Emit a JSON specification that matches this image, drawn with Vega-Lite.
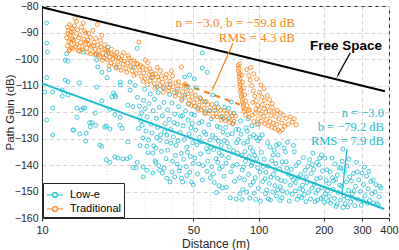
{
"$schema":"https://vega.github.io/schema/vega-lite/v6.json",
"width":347,"height":212,"autosize":"none",
"padding":{"left":42,"top":6,"right":10,"bottom":32},
"config":{"view":{"stroke":"#262626","strokeWidth":1},"font":"Liberation Sans",
"axis":{"domainColor":"#262626","tickColor":"#262626","labelColor":"#262626","titleColor":"#262626","labelFontSize":11,"titleFontSize":12,"titleFontWeight":"normal","gridColor":"#d4d4d4","gridDash":[4,3],"labelOverlap":false}},
"datasets":{
"minor":[{"v":20},{"v":30},{"v":40},{"v":60},{"v":70},{"v":80},{"v":90}],
"pts":[
{"d":10.5,"g":-86.4,"s":"L"},{"d":10.5,"g":-94,"s":"L"},{"d":10.6,"g":-97.4,"s":"L"},{"d":10.5,"g":-107,"s":"L"},{"d":10.3,"g":-112.5,"s":"L"},{"d":11.2,"g":-112.5,"s":"L"},{"d":11.2,"g":-118.5,"s":"L"},{"d":10.5,"g":-123,"s":"L"},{"d":11.2,"g":-128.7,"s":"L"},{"d":12.8,"g":-100.4,"s":"L"},{"d":13.2,"g":-100.8,"s":"L"},{"d":13.0,"g":-98,"s":"L"},{"d":15.5,"g":-118.5,"s":"L"},{"d":14.9,"g":-109,"s":"L"},{"d":13.2,"g":-108.6,"s":"L"},{"d":12.4,"g":-114,"s":"L"},{"d":14.5,"g":-118.5,"s":"L"},{"d":14.5,"g":-122,"s":"L"},{"d":17.0,"g":-124,"s":"L"},{"d":16.7,"g":-125.6,"s":"L"},{"d":17.9,"g":-110.6,"s":"L"},{"d":18.1,"g":-103,"s":"L"},{"d":20.0,"g":-107,"s":"L"},{"d":20.2,"g":-95.5,"s":"L"},{"d":20.2,"g":-97.7,"s":"L"},{"d":17.6,"g":-98.5,"s":"L"},{"d":17.9,"g":-100.4,"s":"L"},{"d":22.0,"g":-103,"s":"L"},{"d":20.4,"g":-104,"s":"L"},{"d":21.7,"g":-113.6,"s":"L"},{"d":27.5,"g":-96,"s":"L"},{"d":26.3,"g":-103,"s":"L"},{"d":26.9,"g":-110,"s":"L"},{"d":32,"g":-107,"s":"L"},{"d":20.6,"g":-119,"s":"L"},{"d":21.7,"g":-121,"s":"L"},{"d":22.9,"g":-122,"s":"L"},{"d":26.3,"g":-118,"s":"L"},{"d":28.3,"g":-122,"s":"L"},{"d":34,"g":-110.6,"s":"L"},{"d":14,"g":-126.8,"s":"L"},{"d":14.9,"g":-128.3,"s":"L"},{"d":16,"g":-128,"s":"L"},{"d":15.9,"g":-131,"s":"L"},{"d":17.7,"g":-125,"s":"L"},{"d":18.5,"g":-132.5,"s":"L"},{"d":19.8,"g":-125.3,"s":"L"},{"d":20.6,"g":-126.4,"s":"L"},{"d":19.8,"g":-138,"s":"L"},{"d":20.6,"g":-139,"s":"L"},{"d":21.7,"g":-137,"s":"L"},{"d":22.4,"g":-137.4,"s":"L"},{"d":23.6,"g":-137.7,"s":"L"},{"d":24.7,"g":-137.7,"s":"L"},{"d":25.5,"g":-137,"s":"L"},{"d":22.9,"g":-125,"s":"L"},{"d":23.4,"g":-126.2,"s":"L"},{"d":24.9,"g":-131.3,"s":"L"},{"d":27.5,"g":-139,"s":"L"},{"d":26.3,"g":-141,"s":"L"},{"d":27.2,"g":-141,"s":"L"},{"d":29.3,"g":-140.8,"s":"L"},{"d":29.3,"g":-144.5,"s":"L"},{"d":30.5,"g":-142,"s":"L"},{"d":32.5,"g":-143,"s":"L"},{"d":33.5,"g":-139,"s":"L"},{"d":35,"g":-142,"s":"L"},{"d":36,"g":-143,"s":"L"},{"d":37.7,"g":-145,"s":"L"},{"d":39.8,"g":-142.6,"s":"L"},{"d":41,"g":-144.5,"s":"L"},{"d":44,"g":-145,"s":"L"},{"d":46.6,"g":-144,"s":"L"},{"d":49,"g":-146.4,"s":"L"},{"d":50,"g":-147.5,"s":"L"},{"d":43.3,"g":-141,"s":"L"},{"d":44.6,"g":-146.4,"s":"L"},{"d":39,"g":-146.4,"s":"L"},{"d":29,"g":-125,"s":"L"},{"d":30.5,"g":-133,"s":"L"},{"d":32.5,"g":-135.5,"s":"L"},{"d":33.5,"g":-133.6,"s":"L"},{"d":35,"g":-130.6,"s":"L"},{"d":37.7,"g":-128.7,"s":"L"},{"d":12.4,"g":-111.7,"s":"L"},{"d":13.2,"g":-113.6,"s":"L"},{"d":15.2,"g":-119.2,"s":"L"},{"d":15.8,"g":-118.5,"s":"L"},{"d":17.6,"g":-120.4,"s":"L"},{"d":18.9,"g":-115.8,"s":"L"},{"d":21,"g":-114.3,"s":"L"},{"d":21.4,"g":-112.8,"s":"L"},{"d":21.9,"g":-114.3,"s":"L"},{"d":23,"g":-109.8,"s":"L"},{"d":24.9,"g":-117.4,"s":"L"},{"d":25.5,"g":-111.7,"s":"L"},{"d":16.6,"g":-124,"s":"L"},{"d":19.5,"g":-125.7,"s":"L"},{"d":13.9,"g":-126.8,"s":"L"},{"d":18.9,"g":-133,"s":"L"},{"d":15.5,"g":-97.4,"s":"L"},{"d":18.9,"g":-105,"s":"L"},{"d":12.8,"g":-108,"s":"L"},{"d":23,"g":-108.7,"s":"L"},{"d":25.5,"g":-108.7,"s":"L"},{"d":55,"g":-97.7,"s":"L"},{"d":55,"g":-103.4,"s":"L"},{"d":58,"g":-105,"s":"L"},{"d":48,"g":-106,"s":"L"},{"d":50.5,"g":-107.5,"s":"L"},{"d":45.6,"g":-106.8,"s":"L"},
{"d":27.6,"g":-114.5,"s":"L"},{"d":28.2,"g":-117.8,"s":"L"},{"d":28.8,"g":-120.3,"s":"L"},{"d":29.4,"g":-115.6,"s":"L"},{"d":30.0,"g":-118.7,"s":"L"},{"d":30.6,"g":-121.9,"s":"L"},{"d":31.2,"g":-116.8,"s":"L"},{"d":31.8,"g":-124.6,"s":"L"},{"d":27.9,"g":-126.2,"s":"L"},{"d":28.6,"g":-123.4,"s":"L"},{"d":29.2,"g":-129.8,"s":"L"},{"d":30.2,"g":-127.2,"s":"L"},{"d":31.0,"g":-130.6,"s":"L"},{"d":31.6,"g":-113.2,"s":"L"},{"d":29.8,"g":-111.4,"s":"L"},{"d":30.9,"g":-135.4,"s":"L"},{"d":28.4,"g":-132.7,"s":"L"},{"d":32.2,"g":-127.9,"s":"L"},
{"d":32.6,"g":-119.5,"s":"L"},{"d":33.1,"g":-115.2,"s":"L"},{"d":33.7,"g":-122.4,"s":"L"},{"d":34.2,"g":-125.8,"s":"L"},{"d":34.8,"g":-118.2,"s":"L"},{"d":35.3,"g":-128.6,"s":"L"},{"d":35.9,"g":-121.4,"s":"L"},{"d":36.5,"g":-116.4,"s":"L"},{"d":37.1,"g":-124.4,"s":"L"},{"d":37.7,"g":-131.2,"s":"L"},{"d":32.8,"g":-132.8,"s":"L"},{"d":33.9,"g":-129.6,"s":"L"},{"d":35.6,"g":-134.8,"s":"L"},{"d":36.8,"g":-127.4,"s":"L"},{"d":37.4,"g":-137.6,"s":"L"},{"d":34.4,"g":-112.6,"s":"L"},{"d":36.2,"g":-110.8,"s":"L"},{"d":33.3,"g":-138.4,"s":"L"},{"d":38.0,"g":-119.2,"s":"L"},{"d":38.0,"g":-134.4,"s":"L"},{"d":34.6,"g":-140.2,"s":"L"},{"d":36.6,"g":-141.2,"s":"L"},
{"d":38.6,"g":-122.8,"s":"L"},{"d":39.2,"g":-126.6,"s":"L"},{"d":39.8,"g":-116.6,"s":"L"},{"d":40.4,"g":-129.4,"s":"L"},{"d":41.0,"g":-120.8,"s":"L"},{"d":41.6,"g":-132.6,"s":"L"},{"d":42.2,"g":-124.6,"s":"L"},{"d":42.8,"g":-118,"s":"L"},{"d":43.4,"g":-127.8,"s":"L"},{"d":44.0,"g":-135.6,"s":"L"},{"d":38.8,"g":-113.4,"s":"L"},{"d":40.0,"g":-138.6,"s":"L"},{"d":41.3,"g":-136.4,"s":"L"},{"d":42.5,"g":-130.8,"s":"L"},{"d":43.7,"g":-121.6,"s":"L"},{"d":39.4,"g":-131.8,"s":"L"},{"d":40.7,"g":-124,"s":"L"},{"d":42,"g":-139.6,"s":"L"},{"d":43.1,"g":-142.2,"s":"L"},{"d":44.2,"g":-115,"s":"L"},{"d":39.0,"g":-109.6,"s":"L"},{"d":41.8,"g":-112.2,"s":"L"},
{"d":44.8,"g":-125.2,"s":"L"},{"d":45.4,"g":-130.4,"s":"L"},{"d":46.0,"g":-119.6,"s":"L"},{"d":46.6,"g":-133.2,"s":"L"},{"d":47.2,"g":-123,"s":"L"},{"d":47.8,"g":-128.2,"s":"L"},{"d":48.4,"g":-136.8,"s":"L"},{"d":49.0,"g":-120.8,"s":"L"},{"d":49.6,"g":-131.6,"s":"L"},{"d":45.1,"g":-137.8,"s":"L"},{"d":46.3,"g":-140.6,"s":"L"},{"d":47.5,"g":-117,"s":"L"},{"d":48.7,"g":-126,"s":"L"},{"d":49.9,"g":-139.4,"s":"L"},{"d":45.7,"g":-113.6,"s":"L"},{"d":48.1,"g":-142.8,"s":"L"},{"d":46.9,"g":-135.2,"s":"L"},{"d":49.3,"g":-124.4,"s":"L"},{"d":44.5,"g":-121.4,"s":"L"},{"d":47.0,"g":-110.4,"s":"L"},
{"d":50.5,"g":-121.2,"s":"L"},{"d":51.2,"g":-126.8,"s":"L"},{"d":51.9,"g":-132.4,"s":"L"},{"d":52.6,"g":-118.4,"s":"L"},{"d":53.3,"g":-129.6,"s":"L"},{"d":54.0,"g":-135.8,"s":"L"},{"d":54.7,"g":-123.6,"s":"L"},{"d":55.4,"g":-140.2,"s":"L"},{"d":56.1,"g":-127.6,"s":"L"},{"d":56.8,"g":-120.2,"s":"L"},{"d":57.5,"g":-133.8,"s":"L"},{"d":58.2,"g":-138.6,"s":"L"},{"d":58.9,"g":-124.8,"s":"L"},{"d":59.6,"g":-130.6,"s":"L"},{"d":50.8,"g":-137.4,"s":"L"},{"d":52.2,"g":-143.4,"s":"L"},{"d":53.6,"g":-114.6,"s":"L"},{"d":55.0,"g":-145.6,"s":"L"},{"d":56.4,"g":-116.2,"s":"L"},{"d":57.8,"g":-142.4,"s":"L"},{"d":59.2,"g":-119.6,"s":"L"},{"d":51.5,"g":-110.8,"s":"L"},{"d":54.3,"g":-131.2,"s":"L"},{"d":57.1,"g":-128.4,"s":"L"},{"d":59.9,"g":-144.8,"s":"L"},{"d":53,"g":-124.2,"s":"L"},{"d":58.5,"g":-135,"s":"L"},{"d":52.9,"g":-139.6,"s":"L"},
{"d":60.4,"g":-122.6,"s":"L"},{"d":61.2,"g":-128.8,"s":"L"},{"d":62.0,"g":-134.2,"s":"L"},{"d":62.8,"g":-119.4,"s":"L"},{"d":63.6,"g":-137.6,"s":"L"},{"d":64.4,"g":-125.4,"s":"L"},{"d":65.2,"g":-131,"s":"L"},{"d":66.0,"g":-141.4,"s":"L"},{"d":66.8,"g":-121.8,"s":"L"},{"d":67.6,"g":-136.4,"s":"L"},{"d":68.4,"g":-127.6,"s":"L"},{"d":69.2,"g":-144.2,"s":"L"},{"d":60.8,"g":-140.6,"s":"L"},{"d":62.4,"g":-146.6,"s":"L"},{"d":64.0,"g":-116.8,"s":"L"},{"d":65.6,"g":-147.8,"s":"L"},{"d":67.2,"g":-132.6,"s":"L"},{"d":68.8,"g":-122.4,"s":"L"},{"d":61.6,"g":-113.6,"s":"L"},{"d":63.2,"g":-129.8,"s":"L"},{"d":64.8,"g":-139,"s":"L"},{"d":66.4,"g":-125.8,"s":"L"},{"d":68.0,"g":-148.6,"s":"L"},{"d":69.6,"g":-118.2,"s":"L"},{"d":60.2,"g":-133.4,"s":"L"},{"d":61.8,"g":-143.4,"s":"L"},{"d":63.8,"g":-150.4,"s":"L"},{"d":65.8,"g":-135.4,"s":"L"},{"d":67.9,"g":-140.6,"s":"L"},{"d":69.4,"g":-130.8,"s":"L"},
{"d":70.5,"g":-125.8,"s":"L"},{"d":71.5,"g":-131.6,"s":"L"},{"d":72.5,"g":-137.2,"s":"L"},{"d":73.5,"g":-122.2,"s":"L"},{"d":74.5,"g":-142.6,"s":"L"},{"d":75.5,"g":-128.2,"s":"L"},{"d":76.5,"g":-134.6,"s":"L"},{"d":77.5,"g":-146.2,"s":"L"},{"d":78.5,"g":-126.6,"s":"L"},{"d":79.5,"g":-139.8,"s":"L"},{"d":80.5,"g":-130.4,"s":"L"},{"d":81.5,"g":-144.8,"s":"L"},{"d":82.5,"g":-123.4,"s":"L"},{"d":83.5,"g":-136.4,"s":"L"},{"d":84.5,"g":-149.2,"s":"L"},{"d":71.0,"g":-148.4,"s":"L"},{"d":72.8,"g":-118.6,"s":"L"},{"d":74.0,"g":-152.4,"s":"L"},{"d":75.8,"g":-140.4,"s":"L"},{"d":77.0,"g":-120.4,"s":"L"},{"d":78.8,"g":-152.8,"s":"L"},{"d":80.0,"g":-135.6,"s":"L"},{"d":82.0,"g":-150.8,"s":"L"},{"d":83.0,"g":-128.4,"s":"L"},{"d":84.0,"g":-141.8,"s":"L"},{"d":70.8,"g":-139.2,"s":"L"},{"d":73.2,"g":-133.2,"s":"L"},{"d":76,"g":-124.4,"s":"L"},{"d":79,"g":-131.6,"s":"L"},{"d":81,"g":-126.6,"s":"L"},{"d":83.8,"g":-153,"s":"L"},{"d":72,"g":-128.6,"s":"L"},{"d":74.8,"g":-116.2,"s":"L"},
{"d":85.5,"g":-131.8,"s":"L"},{"d":87,"g":-138.6,"s":"L"},{"d":88.5,"g":-127.2,"s":"L"},{"d":90,"g":-143.6,"s":"L"},{"d":91.5,"g":-133.4,"s":"L"},{"d":93,"g":-125.2,"s":"L"},{"d":94.5,"g":-146.4,"s":"L"},{"d":96,"g":-136.4,"s":"L"},{"d":97.5,"g":-129.6,"s":"L"},{"d":99,"g":-141,"s":"L"},{"d":86,"g":-145.6,"s":"L"},{"d":88,"g":-150.2,"s":"L"},{"d":89.5,"g":-122.6,"s":"L"},{"d":91,"g":-152.5,"s":"L"},{"d":92.5,"g":-140.2,"s":"L"},{"d":94,"g":-134.8,"s":"L"},{"d":95.5,"g":-150.6,"s":"L"},{"d":97,"g":-153,"s":"L"},{"d":98.5,"g":-124.6,"s":"L"},{"d":86.5,"g":-135,"s":"L"},{"d":89,"g":-131.2,"s":"L"},{"d":92,"g":-147.6,"s":"L"},{"d":95,"g":-128.6,"s":"L"},{"d":98,"g":-137.6,"s":"L"},{"d":99.8,"g":-148.8,"s":"L"},{"d":87.5,"g":-126,"s":"L"},{"d":90.5,"g":-136.8,"s":"L"},{"d":93.5,"g":-139.2,"s":"L"},{"d":96.5,"g":-144.8,"s":"L"},{"d":99.2,"g":-130.8,"s":"L"},{"d":85.2,"g":-140.8,"s":"L"},{"d":91.2,"g":-129.4,"s":"L"},
{"d":101,"g":-130,"s":"L"},{"d":103,"g":-135.2,"s":"L"},{"d":105,"g":-140.6,"s":"L"},{"d":107,"g":-145.2,"s":"L"},{"d":109,"g":-149.4,"s":"L"},{"d":111,"g":-152.8,"s":"L"},{"d":113,"g":-133.2,"s":"L"},{"d":115,"g":-138.4,"s":"L"},{"d":117,"g":-143.6,"s":"L"},{"d":119,"g":-147.8,"s":"L"},{"d":121,"g":-151.6,"s":"L"},{"d":123,"g":-136.2,"s":"L"},{"d":125,"g":-141.4,"s":"L"},{"d":127,"g":-145.8,"s":"L"},{"d":129,"g":-149.8,"s":"L"},{"d":102,"g":-153.6,"s":"L"},{"d":104,"g":-128.6,"s":"L"},{"d":106,"g":-137.8,"s":"L"},{"d":108,"g":-142.8,"s":"L"},{"d":110,"g":-131.6,"s":"L"},{"d":112,"g":-147,"s":"L"},{"d":114,"g":-144.6,"s":"L"},{"d":116,"g":-150.2,"s":"L"},{"d":118,"g":-134.4,"s":"L"},{"d":120,"g":-139.4,"s":"L"},{"d":122,"g":-145,"s":"L"},{"d":124,"g":-132,"s":"L"},{"d":126,"g":-148.2,"s":"L"},{"d":128,"g":-152.4,"s":"L"},{"d":104.5,"g":-146.2,"s":"L"},{"d":110.5,"g":-140.4,"s":"L"},{"d":116.5,"g":-136.2,"s":"L"},{"d":122.5,"g":-149.4,"s":"L"},{"d":128.5,"g":-138.8,"s":"L"},{"d":101.5,"g":-142.6,"s":"L"},{"d":107.5,"g":-150.8,"s":"L"},{"d":113.5,"g":-153.2,"s":"L"},{"d":119.5,"g":-141.8,"s":"L"},{"d":125.5,"g":-153.4,"s":"L"},{"d":121,"g":-132.5,"s":"L"},
{"d":131,"g":-133.6,"s":"L"},{"d":134,"g":-138.8,"s":"L"},{"d":137,"g":-143.4,"s":"L"},{"d":140,"g":-147.6,"s":"L"},{"d":143,"g":-151,"s":"L"},{"d":146,"g":-135,"s":"L"},{"d":149,"g":-140.2,"s":"L"},{"d":152,"g":-144.8,"s":"L"},{"d":155,"g":-149,"s":"L"},{"d":158,"g":-152.4,"s":"L"},{"d":161,"g":-137.2,"s":"L"},{"d":164,"g":-142,"s":"L"},{"d":167,"g":-146.6,"s":"L"},{"d":170,"g":-150.4,"s":"L"},{"d":132.5,"g":-146.2,"s":"L"},{"d":135.5,"g":-150.4,"s":"L"},{"d":138.5,"g":-153.6,"s":"L"},{"d":141.5,"g":-141.6,"s":"L"},{"d":144.5,"g":-145.6,"s":"L"},{"d":147.5,"g":-149.8,"s":"L"},{"d":150.5,"g":-153,"s":"L"},{"d":153.5,"g":-139,"s":"L"},{"d":156.5,"g":-143.6,"s":"L"},{"d":159.5,"g":-147.6,"s":"L"},{"d":162.5,"g":-151.2,"s":"L"},{"d":165.5,"g":-153.8,"s":"L"},{"d":168.5,"g":-140.6,"s":"L"},{"d":133,"g":-135,"s":"L"},{"d":136,"g":-131.4,"s":"L"},{"d":145,"g":-132.6,"s":"L"},{"d":135,"g":-141.2,"s":"L"},{"d":142,"g":-144.4,"s":"L"},{"d":148,"g":-146.6,"s":"L"},{"d":154,"g":-151.8,"s":"L"},{"d":160,"g":-149.4,"s":"L"},{"d":166,"g":-144.4,"s":"L"},
{"d":172,"g":-138,"s":"L"},{"d":175,"g":-143.2,"s":"L"},{"d":178,"g":-135.5,"s":"L"},{"d":181,"g":-147.2,"s":"L"},{"d":184,"g":-150.6,"s":"L"},{"d":187,"g":-153.2,"s":"L"},{"d":190,"g":-140,"s":"L"},{"d":193,"g":-144.8,"s":"L"},{"d":196,"g":-148.6,"s":"L"},{"d":199,"g":-152,"s":"L"},{"d":202,"g":-137.4,"s":"L"},{"d":205,"g":-145.8,"s":"L"},{"d":208,"g":-149.8,"s":"L"},{"d":173.5,"g":-152.8,"s":"L"},{"d":176.5,"g":-148.8,"s":"L"},{"d":179.5,"g":-141.6,"s":"L"},{"d":182.5,"g":-153.8,"s":"L"},{"d":185.5,"g":-145.2,"s":"L"},{"d":188.5,"g":-149.4,"s":"L"},{"d":191.5,"g":-137.4,"s":"L"},{"d":194.5,"g":-152.6,"s":"L"},{"d":197.5,"g":-142.2,"s":"L"},{"d":200.5,"g":-154,"s":"L"},{"d":203.5,"g":-150.8,"s":"L"},{"d":206.5,"g":-141.8,"s":"L"},{"d":209.5,"g":-153.6,"s":"L"},{"d":186,"g":-139,"s":"L"},{"d":211,"g":-147,"s":"L"},{"d":177,"g":-139.8,"s":"L"},{"d":195,"g":-136.2,"s":"L"},
{"d":212,"g":-151.8,"s":"L"},{"d":215,"g":-154.4,"s":"L"},{"d":218,"g":-137.4,"s":"L"},{"d":221,"g":-149.2,"s":"L"},{"d":224,"g":-152.6,"s":"L"},{"d":227,"g":-145.4,"s":"L"},{"d":230,"g":-154.8,"s":"L"},{"d":233,"g":-150.4,"s":"L"},{"d":236,"g":-141,"s":"L"},{"d":239,"g":-153.2,"s":"L"},{"d":242,"g":-148,"s":"L"},{"d":245,"g":-134,"s":"L"},{"d":248,"g":-151.6,"s":"L"},{"d":251,"g":-154.6,"s":"L"},{"d":254,"g":-146.4,"s":"L"},{"d":257,"g":-152.4,"s":"L"},{"d":260,"g":-149.6,"s":"L"},{"d":263,"g":-144.5,"s":"L"},{"d":266,"g":-154,"s":"L"},{"d":270,"g":-150.8,"s":"L"},{"d":214,"g":-142.6,"s":"L"},{"d":219,"g":-144.8,"s":"L"},{"d":225,"g":-139.6,"s":"L"},{"d":231,"g":-143.8,"s":"L"},{"d":237,"g":-147.6,"s":"L"},{"d":243,"g":-138.6,"s":"L"},{"d":249,"g":-142.4,"s":"L"},{"d":255,"g":-140.4,"s":"L"},{"d":261,"g":-137.8,"s":"L"},{"d":268,"g":-146,"s":"L"},{"d":274,"g":-143.2,"s":"L"},{"d":280,"g":-148,"s":"L"},{"d":285,"g":-142.6,"s":"L"},{"d":290,"g":-145.6,"s":"L"},{"d":295,"g":-150,"s":"L"},{"d":300,"g":-143,"s":"L"},{"d":305,"g":-147.4,"s":"L"},{"d":310,"g":-151.6,"s":"L"},{"d":315,"g":-144.2,"s":"L"},{"d":320,"g":-149,"s":"L"},{"d":325,"g":-153.4,"s":"L"},{"d":330,"g":-146.2,"s":"L"},{"d":338,"g":-145.7,"s":"L"},{"d":345,"g":-150.2,"s":"L"},{"d":352,"g":-154.6,"s":"L"},{"d":356,"g":-155,"s":"L"},{"d":339,"g":-154.3,"s":"L"},{"d":363,"g":-148,"s":"L"},{"d":367,"g":-148.7,"s":"L"},{"d":360,"g":-152,"s":"L"},{"d":348,"g":-147.4,"s":"L"},{"d":333,"g":-150.8,"s":"L"},{"d":318,"g":-154.4,"s":"L"},{"d":298,"g":-155.2,"s":"L"},{"d":288,"g":-153,"s":"L"},{"d":278,"g":-155.4,"s":"L"},{"d":308,"g":-140.8,"s":"L"},{"d":283,"g":-139,"s":"L"},{"d":272,"g":-152.6,"s":"L"},{"d":228,"g":-155.6,"s":"L"},{"d":246,"g":-156,"s":"L"},{"d":258,"g":-155.8,"s":"L"},{"d":222,"g":-146,"s":"L"},{"d":240,"g":-141.2,"s":"L"},{"d":276,"g":-149.8,"s":"L"},{"d":303,"g":-153.6,"s":"L"},{"d":323,"g":-142.4,"s":"L"},
{"d":13.1,"g":-88,"s":"T"},{"d":13.2,"g":-90.5,"s":"T"},{"d":13.0,"g":-92,"s":"T"},{"d":13.3,"g":-93.5,"s":"T"},{"d":13.1,"g":-95,"s":"T"},{"d":13.4,"g":-96.5,"s":"T"},{"d":13.2,"g":-89.2,"s":"T"},{"d":13.5,"g":-91,"s":"T"},{"d":13.6,"g":-94,"s":"T"},{"d":13.3,"g":-97,"s":"T"},{"d":13.8,"g":-88.5,"s":"T"},{"d":13.7,"g":-90,"s":"T"},{"d":13.9,"g":-92.8,"s":"T"},{"d":13.6,"g":-95.8,"s":"T"},{"d":14.0,"g":-93,"s":"T"},{"d":13.9,"g":-96,"s":"T"},{"d":14.1,"g":-87.5,"s":"T"},{"d":14.2,"g":-84.6,"s":"T"},{"d":14.4,"g":-85.8,"s":"T"},{"d":14.3,"g":-91.5,"s":"T"},{"d":14.5,"g":-94.5,"s":"T"},{"d":14.6,"g":-89,"s":"T"},{"d":14.8,"g":-92,"s":"T"},{"d":14.7,"g":-96.8,"s":"T"},{"d":15.0,"g":-90.8,"s":"T"},{"d":15.1,"g":-93.8,"s":"T"},{"d":15.3,"g":-95.5,"s":"T"},{"d":15.2,"g":-88,"s":"T"},{"d":15.5,"g":-86.4,"s":"T"},{"d":15.6,"g":-92.5,"s":"T"},{"d":15.8,"g":-94.2,"s":"T"},{"d":15.9,"g":-90.2,"s":"T"},{"d":16.1,"g":-96,"s":"T"},{"d":16.3,"g":-92.8,"s":"T"},{"d":16.5,"g":-94.6,"s":"T"},{"d":16.2,"g":-97.5,"s":"T"},{"d":16.7,"g":-91.8,"s":"T"},{"d":16.9,"g":-95.2,"s":"T"},{"d":17.1,"g":-97.2,"s":"T"},{"d":17.2,"g":-89.2,"s":"T"},{"d":17.4,"g":-93.7,"s":"T"},{"d":17.6,"g":-96.4,"s":"T"},{"d":17.8,"g":-98.2,"s":"T"},{"d":18.0,"g":-87,"s":"T"},{"d":18.1,"g":-94.8,"s":"T"},{"d":18.3,"g":-96.9,"s":"T"},{"d":18.5,"g":-99,"s":"T"},{"d":18.7,"g":-95.5,"s":"T"},{"d":18.9,"g":-91,"s":"T"},{"d":19.1,"g":-97.8,"s":"T"},{"d":19.3,"g":-99.6,"s":"T"},{"d":19.5,"g":-96.3,"s":"T"},{"d":19.8,"g":-98.5,"s":"T"},{"d":20.0,"g":-100.2,"s":"T"},{"d":20.2,"g":-97,"s":"T"},{"d":20.5,"g":-99.3,"s":"T"},{"d":20.8,"g":-101.5,"s":"T"},{"d":21.0,"g":-98,"s":"T"},{"d":21.3,"g":-100,"s":"T"},{"d":21.6,"g":-102.3,"s":"T"},{"d":21.9,"g":-99.2,"s":"T"},{"d":22.2,"g":-97.5,"s":"T"},{"d":22.5,"g":-101,"s":"T"},{"d":22.8,"g":-103,"s":"T"},{"d":23.1,"g":-100.3,"s":"T"},{"d":23.4,"g":-98.8,"s":"T"},{"d":23.7,"g":-102,"s":"T"},{"d":24.0,"g":-100.8,"s":"T"},{"d":24.4,"g":-103.5,"s":"T"},{"d":24.8,"g":-101.5,"s":"T"},{"d":25.2,"g":-99.6,"s":"T"},{"d":25.6,"g":-102.8,"s":"T"},{"d":26.0,"g":-104.5,"s":"T"},{"d":26.4,"g":-100.6,"s":"T"},{"d":26.8,"g":-103.2,"s":"T"},{"d":27.2,"g":-105.5,"s":"T"},{"d":27.6,"g":-102,"s":"T"},{"d":28.0,"g":-93.6,"s":"T"},{"d":28.3,"g":-104.2,"s":"T"},{"d":28.7,"g":-106.5,"s":"T"},{"d":29.1,"g":-103,"s":"T"},{"d":29.5,"g":-105.3,"s":"T"},{"d":29.9,"g":-107.5,"s":"T"},{"d":30.3,"g":-104,"s":"T"},{"d":30.8,"g":-101.5,"s":"T"},{"d":31.2,"g":-106,"s":"T"},{"d":31.6,"g":-108.2,"s":"T"},{"d":32.0,"g":-104.8,"s":"T"},{"d":32.5,"g":-107,"s":"T"},{"d":33.0,"g":-109.3,"s":"T"},{"d":33.5,"g":-105.6,"s":"T"},{"d":34.0,"g":-103.2,"s":"T"},{"d":34.5,"g":-108,"s":"T"},{"d":35.0,"g":-110,"s":"T"},{"d":35.5,"g":-106.4,"s":"T"},{"d":36.0,"g":-108.8,"s":"T"},{"d":36.6,"g":-111,"s":"T"},{"d":37.2,"g":-107.2,"s":"T"},{"d":37.8,"g":-109.6,"s":"T"},{"d":38.4,"g":-112,"s":"T"},{"d":39.0,"g":-108.3,"s":"T"},{"d":39.6,"g":-104.5,"s":"T"},{"d":40.2,"g":-110.5,"s":"T"},{"d":40.8,"g":-112.6,"s":"T"},{"d":41.5,"g":-109,"s":"T"},{"d":42.2,"g":-111.4,"s":"T"},{"d":43.0,"g":-113.5,"s":"T"},{"d":43.8,"g":-110.2,"s":"T"},{"d":44.0,"g":-103,"s":"T"},{"d":44.6,"g":-112.3,"s":"T"},{"d":45.4,"g":-114.5,"s":"T"},{"d":46.2,"g":-111,"s":"T"},{"d":47.0,"g":-113.2,"s":"T"},{"d":47.8,"g":-115.5,"s":"T"},{"d":48.6,"g":-112,"s":"T"},{"d":49.4,"g":-114.2,"s":"T"},{"d":50.2,"g":-116.5,"s":"T"},{"d":51.0,"g":-113.6,"s":"T"},{"d":52.0,"g":-115.3,"s":"T"},{"d":53.0,"g":-117.5,"s":"T"},{"d":54.0,"g":-115,"s":"T"},{"d":55.0,"g":-116.2,"s":"T"},{"d":56.0,"g":-118.6,"s":"T"},{"d":57.2,"g":-116,"s":"T"},{"d":58.4,"g":-117.3,"s":"T"},{"d":59.6,"g":-119.5,"s":"T"},{"d":61.0,"g":-117.2,"s":"T"},{"d":62.4,"g":-118.4,"s":"T"},{"d":63.8,"g":-120.5,"s":"T"},{"d":65.2,"g":-118.4,"s":"T"},{"d":66.6,"g":-119.3,"s":"T"},{"d":68.0,"g":-121.6,"s":"T"},{"d":69.5,"g":-119.4,"s":"T"},{"d":71.0,"g":-120.5,"s":"T"},{"d":72.5,"g":-122.6,"s":"T"},{"d":74.0,"g":-120.3,"s":"T"},{"d":75.5,"g":-121.5,"s":"T"},{"d":77.0,"g":-123.5,"s":"T"},{"d":78.5,"g":-121.6,"s":"T"},
{"d":13.4,"g":-87,"s":"T"},{"d":13.7,"g":-92.4,"s":"T"},{"d":14.0,"g":-89.6,"s":"T"},{"d":14.3,"g":-95.3,"s":"T"},{"d":14.9,"g":-97,"s":"T"},{"d":15.4,"g":-96.5,"s":"T"},{"d":15.7,"g":-89.4,"s":"T"},{"d":16.0,"g":-93.6,"s":"T"},{"d":16.4,"g":-90.3,"s":"T"},{"d":16.8,"g":-98,"s":"T"},{"d":17.3,"g":-95,"s":"T"},{"d":17.7,"g":-92.2,"s":"T"},{"d":18.2,"g":-98.6,"s":"T"},{"d":18.6,"g":-93,"s":"T"},{"d":19.0,"g":-100.5,"s":"T"},{"d":19.4,"g":-94.6,"s":"T"},{"d":19.9,"g":-96.7,"s":"T"},{"d":20.4,"g":-102.6,"s":"T"},{"d":20.9,"g":-96.3,"s":"T"},{"d":21.4,"g":-98.5,"s":"T"},{"d":22.0,"g":-103.4,"s":"T"},{"d":22.6,"g":-99.5,"s":"T"},{"d":23.2,"g":-104.2,"s":"T"},{"d":23.8,"g":-97.6,"s":"T"},{"d":24.6,"g":-105,"s":"T"},{"d":25.0,"g":-98.7,"s":"T"},{"d":25.8,"g":-100.9,"s":"T"},{"d":26.6,"g":-106.2,"s":"T"},{"d":27.4,"g":-101.6,"s":"T"},{"d":28.5,"g":-102.4,"s":"T"},{"d":29.3,"g":-108.4,"s":"T"},{"d":30.0,"g":-100.4,"s":"T"},{"d":30.6,"g":-109.6,"s":"T"},{"d":31.4,"g":-103.6,"s":"T"},{"d":32.3,"g":-105.8,"s":"T"},{"d":33.2,"g":-111,"s":"T"},{"d":34.2,"g":-106.8,"s":"T"},{"d":35.2,"g":-104.4,"s":"T"},{"d":36.3,"g":-112.6,"s":"T"},{"d":37.5,"g":-105.8,"s":"T"},{"d":38.7,"g":-110.8,"s":"T"},{"d":40.0,"g":-106.4,"s":"T"},{"d":41.2,"g":-114,"s":"T"},{"d":42.6,"g":-108.6,"s":"T"},{"d":44.2,"g":-115.6,"s":"T"},{"d":45.8,"g":-109.4,"s":"T"},{"d":47.4,"g":-116.8,"s":"T"},{"d":49.0,"g":-117.6,"s":"T"},{"d":50.6,"g":-117.8,"s":"T"},{"d":52.4,"g":-119,"s":"T"},{"d":54.4,"g":-119.2,"s":"T"},{"d":56.4,"g":-120.6,"s":"T"},{"d":58.8,"g":-120.6,"s":"T"},{"d":61.6,"g":-121.8,"s":"T"},{"d":64.4,"g":-121.8,"s":"T"},{"d":67.2,"g":-123,"s":"T"},{"d":70.2,"g":-123.2,"s":"T"},{"d":73.2,"g":-124,"s":"T"},{"d":76.2,"g":-124.4,"s":"T"},
{"d":80.5,"g":-102.5,"s":"T"},{"d":81,"g":-103.5,"s":"T"},{"d":80.8,"g":-104.5,"s":"T"},{"d":81.5,"g":-105.5,"s":"T"},{"d":81.2,"g":-106.5,"s":"T"},{"d":82,"g":-107.5,"s":"T"},{"d":81.7,"g":-108.5,"s":"T"},{"d":82.4,"g":-109.5,"s":"T"},{"d":82,"g":-110.5,"s":"T"},{"d":83,"g":-111.5,"s":"T"},{"d":82.6,"g":-112.4,"s":"T"},{"d":83.5,"g":-113.4,"s":"T"},{"d":83.2,"g":-114.3,"s":"T"},{"d":84.2,"g":-115.2,"s":"T"},{"d":84,"g":-116.2,"s":"T"},{"d":85,"g":-117,"s":"T"},{"d":84.8,"g":-118,"s":"T"},{"d":86,"g":-118.8,"s":"T"},{"d":85.6,"g":-119.8,"s":"T"},{"d":81.8,"g":-101.8,"s":"T"},{"d":83.4,"g":-106,"s":"T"},{"d":84.4,"g":-108.8,"s":"T"},{"d":85.2,"g":-111,"s":"T"},{"d":86.2,"g":-113.5,"s":"T"},{"d":87.2,"g":-115.8,"s":"T"},{"d":88.4,"g":-117.6,"s":"T"},{"d":89.6,"g":-119.4,"s":"T"},{"d":88,"g":-104,"s":"T"},{"d":90,"g":-106.2,"s":"T"},{"d":91.5,"g":-108,"s":"T"},{"d":93,"g":-110,"s":"T"},{"d":94.5,"g":-112,"s":"T"},{"d":96,"g":-114,"s":"T"},{"d":97.5,"g":-115.8,"s":"T"},{"d":99,"g":-117.5,"s":"T"},{"d":100.5,"g":-119.2,"s":"T"},{"d":102,"g":-120.8,"s":"T"},{"d":92,"g":-103.2,"s":"T"},{"d":95,"g":-105.6,"s":"T"},{"d":98,"g":-107.5,"s":"T"},{"d":87,"g":-121,"s":"T"},{"d":90.5,"g":-122,"s":"T"},{"d":93.5,"g":-121.2,"s":"T"},{"d":96.5,"g":-120.5,"s":"T"},{"d":99.5,"g":-122.6,"s":"T"},{"d":103,"g":-123.4,"s":"T"},{"d":105,"g":-121.6,"s":"T"},{"d":107,"g":-124.4,"s":"T"},{"d":109,"g":-122.8,"s":"T"},{"d":111,"g":-125.2,"s":"T"},{"d":113,"g":-123.6,"s":"T"},{"d":115,"g":-125.8,"s":"T"},{"d":117,"g":-124.2,"s":"T"},{"d":119,"g":-126.2,"s":"T"},{"d":121,"g":-124.6,"s":"T"},{"d":123,"g":-126.8,"s":"T"},{"d":104,"g":-117.2,"s":"T"},{"d":106,"g":-118.8,"s":"T"},{"d":108,"g":-120.2,"s":"T"},{"d":110,"g":-117.8,"s":"T"},{"d":112,"g":-119.6,"s":"T"},{"d":114,"g":-121.4,"s":"T"},{"d":116,"g":-118.2,"s":"T"},{"d":118,"g":-120,"s":"T"},{"d":120,"g":-121.8,"s":"T"},{"d":122,"g":-119.4,"s":"T"},{"d":124,"g":-122.6,"s":"T"},{"d":126,"g":-120.4,"s":"T"},{"d":128,"g":-124.2,"s":"T"},{"d":130,"g":-121.2,"s":"T"},{"d":132,"g":-125.4,"s":"T"},{"d":134,"g":-122.4,"s":"T"},{"d":137,"g":-124.6,"s":"T"},{"d":140,"g":-121.8,"s":"T"},{"d":143,"g":-123.8,"s":"T"},{"d":146,"g":-122.6,"s":"T"},{"d":149,"g":-124.8,"s":"T"},{"d":125,"g":-127.4,"s":"T"},{"d":129,"g":-126.6,"s":"T"},{"d":101,"g":-112.6,"s":"T"},{"d":103.5,"g":-114.4,"s":"T"},{"d":106.5,"g":-115.6,"s":"T"},{"d":109.5,"g":-113.8,"s":"T"},{"d":112.5,"g":-115.4,"s":"T"},{"d":115.5,"g":-116.8,"s":"T"},{"d":102.5,"g":-109.8,"s":"T"},{"d":106,"g":-111.2,"s":"T"},{"d":100,"g":-124.6,"s":"T"},{"d":95,"g":-123.6,"s":"T"},{"d":91,"g":-119.2,"s":"T"},{"d":94,"g":-116.4,"s":"T"},{"d":97,"g":-118.8,"s":"T"}
]},
"layer":[
{"data":{"name":"minor"},"mark":{"type":"rule","strokeDash":[1,2],"color":"#d4d4d4","strokeWidth":0.8},
 "encoding":{"x":{"field":"v","type":"quantitative","scale":{"type":"log","domain":[10,400],"nice":false}}}},
{"data":{"values":[{"d":45,"g":-109.4},{"d":82,"g":-117.2}]},"mark":{"type":"line","color":"#ff7f0e","strokeWidth":2,"strokeDash":[6,5]},
 "encoding":{"x":{"field":"d","type":"quantitative","scale":{"type":"log","domain":[10,400],"nice":false}},
  "y":{"field":"g","type":"quantitative","scale":{"domain":[-160,-80],"nice":false,"zero":false}}}},
{"data":{"name":"pts"},"mark":{"type":"point","shape":"circle","filled":false,"size":16,"strokeWidth":0.8,"opacity":1},
 "encoding":{
  "x":{"field":"d","type":"quantitative","scale":{"type":"log","domain":[10,400],"nice":false},
   "axis":{"title":"Distance (m)","values":[10,50,100,200,300,400],"labelFlush":false,"labelOverlap":false,"tickSize":3,"labelPadding":3,"titlePadding":3,"grid":true}},
  "y":{"field":"g","type":"quantitative","scale":{"domain":[-160,-80],"nice":false,"zero":false},
   "axis":{"title":"Path Gain (dB)","tickCount":9,"values":[-160,-150,-140,-130,-120,-110,-100,-90,-80],"format":"d","labelOverlap":false,"labelFontSize":10.5,"ticks":false,"labelPadding":4,"titlePadding":-1,"titleFontSize":11.5,"grid":true}},
  "color":{"field":"s","type":"nominal","scale":{"domain":["L","T"],"range":["#17becf","#ff7f0e"]},
   "legend":{"title":null,"orient":"bottom-left","offset":1,"labelExpr":"datum.label=='L'?'Low-e':'Traditional'",
    "symbolType":"M-1,0H-0.3M0.3,0H1M0.3,0A0.3,0.3,0,1,1,-0.3,0A0.3,0.3,0,1,1,0.3,0",
    "symbolSize":256,"symbolStrokeWidth":1.2,"symbolFillColor":"transparent","labelFontSize":11,"labelColor":"#000",
    "padding":3,"strokeColor":"#262626","fillColor":"white","rowPadding":0,"labelOffset":6,
    "encode":{"symbols":{"update":{"strokeDash":{"signal":"datum.value=='T'?[3,2]:[1,0]"}}}}}}}},
{"data":{"values":[{"d":10,"g":-109.2},{"d":380,"g":-156.6}]},"mark":{"type":"line","color":"#17becf","strokeWidth":2},
 "encoding":{"x":{"field":"d","type":"quantitative"},"y":{"field":"g","type":"quantitative"}}},
{"data":{"values":[{"d":10,"g":-80.5},{"d":383,"g":-112.2}]},"mark":{"type":"line","color":"black","strokeWidth":2},
 "encoding":{"x":{"field":"d","type":"quantitative"},"y":{"field":"g","type":"quantitative"}}},
{"data":{"values":[{"d":265,"g":-97.7,"d2":234,"g2":-105.6}]},"mark":{"type":"rule","color":"black","strokeWidth":1.2},
 "encoding":{"x":{"field":"d","type":"quantitative"},"y":{"field":"g","type":"quantitative"},"x2":{"field":"d2"},"y2":{"field":"g2"}}},
{"data":{"values":[{"d":233,"g":-106}]},"mark":{"type":"point","shape":"wedge","filled":true,"color":"black","size":50,"angle":208,"opacity":1},
 "encoding":{"x":{"field":"d","type":"quantitative"},"y":{"field":"g","type":"quantitative"}}},
{"data":{"values":[{"d":76.2,"g":-94,"d2":62.2,"g2":-110.4}]},"mark":{"type":"rule","color":"#ff7f0e","strokeWidth":1.2},
 "encoding":{"x":{"field":"d","type":"quantitative"},"y":{"field":"g","type":"quantitative"},"x2":{"field":"d2"},"y2":{"field":"g2"}}},
{"data":{"values":[{"d":61.6,"g":-111}]},"mark":{"type":"point","shape":"wedge","filled":true,"color":"#ff7f0e","size":50,"angle":204,"opacity":1},
 "encoding":{"x":{"field":"d","type":"quantitative"},"y":{"field":"g","type":"quantitative"}}},
{"data":{"values":[{"d":256,"g":-134,"d2":243.5,"g2":-150}]},"mark":{"type":"rule","color":"#17becf","strokeWidth":1.2},
 "encoding":{"x":{"field":"d","type":"quantitative"},"y":{"field":"g","type":"quantitative"},"x2":{"field":"d2"},"y2":{"field":"g2"}}},
{"data":{"values":[{"d":243,"g":-150.6}]},"mark":{"type":"point","shape":"wedge","filled":true,"color":"#17becf","size":50,"angle":186,"opacity":1},
 "encoding":{"x":{"field":"d","type":"quantitative"},"y":{"field":"g","type":"quantitative"}}},
{"data":{"values":[{"d":253,"g":-95.2,"t":"Free Space"}]},"mark":{"type":"text","font":"Liberation Sans","fontWeight":"bold","fontSize":13.5,"color":"black","align":"center","baseline":"middle"},
 "encoding":{"x":{"field":"d","type":"quantitative"},"y":{"field":"g","type":"quantitative"},"text":{"field":"t"}}},
{"data":{"values":[{"d":147,"g":-86.4,"t":"n = −3.0, b = −59.8 dB"},{"d":147,"g":-92.1,"t":"RMS = 4.3 dB"}]},"mark":{"type":"text","font":"Liberation Serif","fontSize":13,"color":"#ff7f0e","align":"right","baseline":"middle"},
 "encoding":{"x":{"field":"d","type":"quantitative"},"y":{"field":"g","type":"quantitative"},"text":{"field":"t"}}},
{"data":{"values":[{"d":379,"g":-120.2,"t":"n = −3.0"},{"d":379,"g":-125.8,"t":"b = −79.2 dB"},{"d":379,"g":-131,"t":"RMS = 7.9 dB"}]},"mark":{"type":"text","font":"Liberation Serif","fontSize":12.5,"color":"#17becf","align":"right","baseline":"middle"},
 "encoding":{"x":{"field":"d","type":"quantitative"},"y":{"field":"g","type":"quantitative"},"text":{"field":"t"}}}
]
}
